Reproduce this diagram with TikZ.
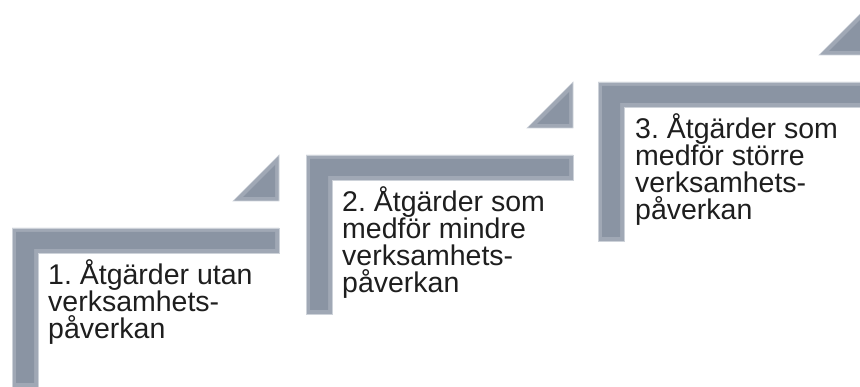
\documentclass[tikz,border=0pt]{standalone}
\usepackage{fontspec}
\setmainfont{Liberation Sans}
\frenchspacing
\definecolor{stepmain}{HTML}{8A94A3}
\definecolor{steplight}{HTML}{A0A8B5}
\definecolor{stepedge}{HTML}{CDD2D9}
\definecolor{textcol}{HTML}{1E1E1E}
\begin{document}
\begin{tikzpicture}[x=1pt,y=-1pt,
  bevelouter/.style={fill=steplight, draw=stepedge, line width=0.6pt, line join=miter},
  bevelinner/.style={fill=stepmain},
  steptext/.style={anchor=base west, inner sep=0pt, text=textcol, font=\fontsize{28.5}{26.7}\selectfont}]
\useasboundingbox (0,0) rectangle (860,387);
\begin{scope}
\clip (0,0) rectangle (860,387);
\foreach \ox/\oy in {12/228, 306/155, 598/82} {
  % L-shaped step
  \path[bevelouter] (\ox,\oy+159) -- (\ox,\oy) -- (\ox+267,\oy) -- (\ox+267,\oy+25)
     -- (\ox+26,\oy+25) -- (\ox+26,\oy+159) -- cycle;
  \path[bevelinner] (\ox+4,\oy+155) -- (\ox+4,\oy+4) -- (\ox+263,\oy+4) -- (\ox+263,\oy+21)
     -- (\ox+22,\oy+21) -- (\ox+22,\oy+155) -- cycle;
  % triangle
  \path[bevelouter] (\ox+221,\oy-27) -- (\ox+267,\oy-27) -- (\ox+267,\oy-73) -- cycle;
  \path[bevelinner] (\ox+231,\oy-31) -- (\ox+263,\oy-31) -- (\ox+263,\oy-63) -- cycle;
}
\end{scope}
\node[steptext] (t1) at (48,285) {\parbox[t]{240pt}{\raggedright 1. Åtgärder utan\\verksamhets-\\påverkan}};
\node[steptext] (t2) at (342,212) {\parbox[t]{240pt}{\raggedright 2. Åtgärder som\\medför mindre\\verksamhets-\\påverkan}};
\node[steptext] (t3) at (635,139) {\parbox[t]{240pt}{\raggedright 3. Åtgärder som\\medför större\\verksamhets-\\påverkan}};
\end{tikzpicture}
\end{document}
